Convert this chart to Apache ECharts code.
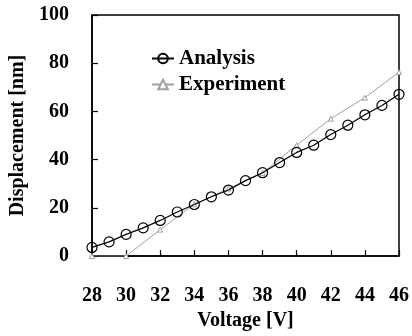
<!DOCTYPE html>
<html>
<head>
<meta charset="utf-8">
<script src="https://cdn.jsdelivr.net/npm/echarts@6/dist/echarts.min.js"></script>
<style>html,body{margin:0;padding:0;background:#fff}#c{width:412px;height:336px}</style>
</head>
<body>
<div id="c"></div>
<script>
var analysisVoltage = [28,29,30,31,32,33,34,35,36,37,38,39,40,41,42,43,44,45,46];
var analysisDisp = [3.6,5.9,9.0,11.7,14.8,18.3,21.4,24.6,27.4,31.3,34.6,38.8,43.0,46.0,50.4,54.3,58.6,62.5,67.1];
var expVoltage = [28,30,32,34,36,38,40,42,44,46];
var expDisp = [0,0,11,21.5,28,34.5,46,57,65.7,76.3];
var xTicks = [28,30,32,34,36,38,40,42,44,46];
var yTicks = [0,20,40,60,80,100];

function pairs(xs, ys){ return xs.map(function(x,i){ return [x, ys[i]]; }); }

var font = 'Liberation Serif';
var chart = echarts.init(document.getElementById('c'));
chart.setOption({
  animation: false,
  backgroundColor: '#fff',
  grid: {left: 91, right: 10, top: 15, bottom: 73, show: true, borderColor: '#000', borderWidth: 1.5, backgroundColor: 'transparent'},
  legend: {
    orient: 'vertical', left: 146, top: 43,
    itemWidth: 22, itemHeight: 12, itemGap: 5,
    textStyle: {fontFamily: font, fontWeight: 'bold', fontSize: 21, color: '#000', lineHeight: 20},
    data: ['Analysis', 'Experiment']
  },
  xAxis: {
    type: 'value', min: xTicks[0], max: xTicks[xTicks.length-1], interval: 2,
    name: 'Voltage [V]', nameLocation: 'middle', nameGap: 52,
    nameTextStyle: {fontFamily: font, fontWeight: 'bold', fontSize: 20, color: '#000'},
    axisLine: {lineStyle: {color: '#000', width: 1.5}},
    axisTick: {inside: true, length: 6, lineStyle: {color: '#000', width: 1.2}},
    axisLabel: {fontFamily: font, fontWeight: 'bold', fontSize: 20, color: '#000', margin: 30},
    splitLine: {show: false}
  },
  yAxis: {
    type: 'value', min: yTicks[0], max: yTicks[yTicks.length-1], interval: 20,
    name: 'Displacement [nm]', nameLocation: 'middle', nameGap: 64,
    nameTextStyle: {fontFamily: font, fontWeight: 'bold', fontSize: 20, color: '#000'},
    axisLine: {lineStyle: {color: '#000', width: 1.5}},
    axisTick: {inside: true, length: 6, lineStyle: {color: '#000', width: 1.2}},
    axisLabel: {fontFamily: font, fontWeight: 'bold', fontSize: 20, color: '#000', margin: 23},
    splitLine: {show: false}
  },
  series: [
    {
      name: 'Experiment', type: 'line', data: pairs(expVoltage, expDisp),
      symbol: 'triangle', symbolSize: 5, showAllSymbol: true,
      lineStyle: {color: '#a0a0a0', width: 1},
      itemStyle: {color: '#ffffff', borderColor: '#a0a0a0', borderWidth: 1},
      z: 2
    },
    {
      name: 'Analysis', type: 'line', data: pairs(analysisVoltage, analysisDisp),
      symbol: 'circle', symbolSize: 10, showAllSymbol: true,
      lineStyle: {color: '#000', width: 1.2},
      itemStyle: {color: 'rgba(255,255,255,0)', borderColor: '#000', borderWidth: 1.2},
      z: 3
    }
  ]
});
</script>
</body>
</html>
